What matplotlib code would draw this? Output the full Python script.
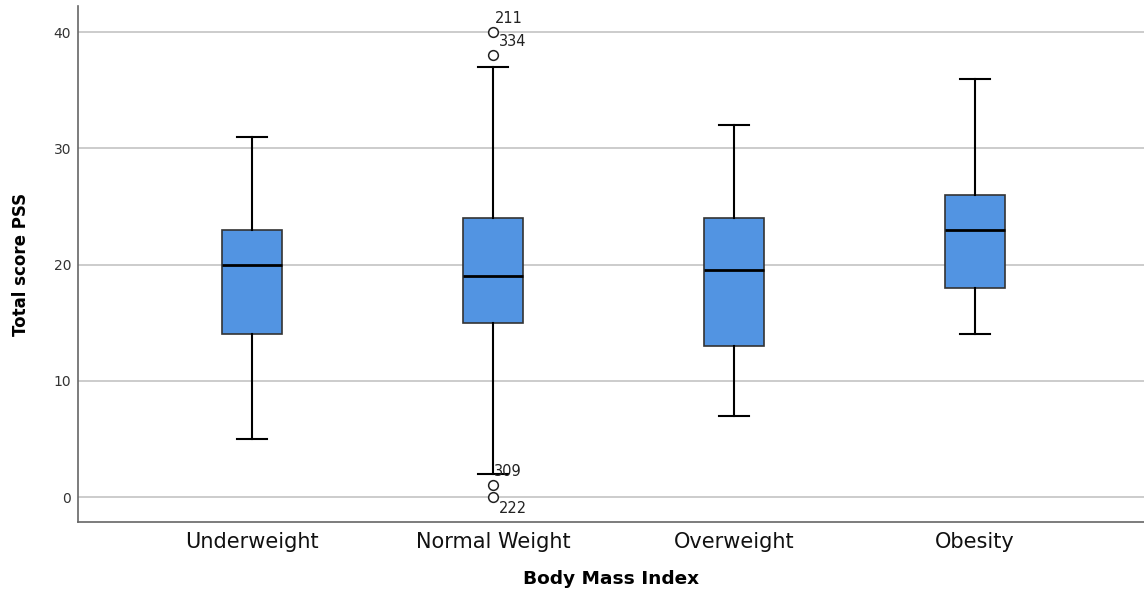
import matplotlib
matplotlib.use("Agg")
import matplotlib.pyplot as plt

categories = ["Underweight", "Normal Weight", "Overweight", "Obesity"]
whisker_low = [5, 2, 7, 14]
q1 = [14, 15, 13, 18]
median = [20, 19, 19.5, 23]
q3 = [23, 24, 24, 26]
whisker_high = [31, 37, 32, 36]
outliers = [[], [40, 38, 1, 0], [], []]
outlier_ids = [[], ["211", "334", "309", "222"], [], []]
yticks = [0, 10, 20, 30, 40]

fig = plt.figure(figsize=(11.44, 5.92), dpi=100)
ax = fig.add_axes([78/1144, 70/592, 1 - 78/1144, 516/592])

stats = []
for i, c in enumerate(categories):
    stats.append(dict(label=c, whislo=whisker_low[i], q1=q1[i], med=median[i],
                      q3=q3[i], whishi=whisker_high[i], fliers=outliers[i]))

ax.bxp(stats, positions=range(len(categories)), widths=0.25, patch_artist=True,
       boxprops=dict(facecolor="#5294E2", edgecolor="#333333", linewidth=1.2),
       medianprops=dict(color="black", linewidth=2),
       whiskerprops=dict(color="black", linewidth=1.5),
       capprops=dict(color="black", linewidth=1.5),
       capwidths=0.125,
       flierprops=dict(marker="o", markerfacecolor="white", markeredgecolor="#222222",
                       markersize=7, markeredgewidth=1.1),
       zorder=3)

offsets = {"211": (1, 10), "334": (4, 10), "309": (1, 10), "222": (4, -8)}
for i in range(len(categories)):
    for v, lab in zip(outliers[i], outlier_ids[i]):
        dx, dy = offsets.get(lab, (3, 8))
        ax.annotate(lab, (i, v), xytext=(dx, dy), textcoords="offset points",
                    fontsize=10.5, ha="left", va="center", color="#222222")

ax.set_xlim(-0.722, 3.701)
ax.set_ylim(-2.15, 42.24)
ax.set_yticks(yticks)
ax.yaxis.grid(True, color="#CCCCCC", linewidth=1.4, zorder=0)
ax.set_axisbelow(True)
ax.tick_params(axis="y", length=0, pad=5, labelsize=10, labelcolor="#333333")
ax.tick_params(axis="x", length=0, pad=7, labelsize=15, labelcolor="#111111")
for s in ["top", "right"]:
    ax.spines[s].set_visible(False)
for s in ["left", "bottom"]:
    ax.spines[s].set_color("#666666")
    ax.spines[s].set_linewidth(1.2)

ax.set_xlabel("Body Mass Index", fontsize=13.3, fontweight="bold", labelpad=13)
ax.set_ylabel("Total score PSS", fontsize=12, fontweight="bold", labelpad=17)

fig.savefig("out.png", dpi=100)
